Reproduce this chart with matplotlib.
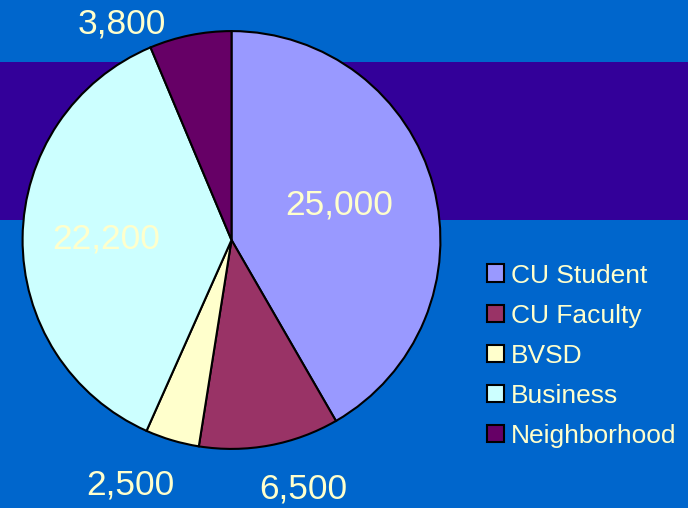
"""Commuter pie chart on a blue slide background."""
import numpy as np
import matplotlib.pyplot as plt
from matplotlib.patches import Rectangle, Patch

plt.rcParams['font.family'] = ['Liberation Sans', 'DejaVu Sans']

categories = ['CU Student', 'CU Faculty', 'BVSD', 'Business', 'Neighborhood']
values = [25000, 6500, 2500, 22200, 3800]
colors = ['#9999FF', '#993366', '#FFFFCC', '#CCFFFF', '#660066']

# label placement (radius as fraction of pie radius, angle tweak in degrees)
labelRadius = [0.54, 1.24, 1.27, 0.60, 1.16]
labelShift = [3.0, 5.5, -6.0, 0, 15.6]
textColor = '#FFFFCC'

W, H = 688, 508
fig = plt.figure(figsize=(W / 100, H / 100), dpi=100, facecolor='#0066CC')

# dark band across the slide
fig.patches.append(Rectangle((0, (H - 220) / H), 1, 158 / H, transform=fig.transFigure,
                             facecolor='#330099', edgecolor='none', zorder=-10))

cx, cy, r = 231.5, 240, 211
ax = fig.add_axes([(cx - r) / W, (H - cy - r) / H, 2 * r / W, 2 * r / H])
ax.set_facecolor('none')
wedges, _ = ax.pie(values, colors=colors, startangle=90, counterclock=False,
                   wedgeprops=dict(edgecolor='black', linewidth=1.5))
ax.set_xlim(-1.01, 1.01)
ax.set_ylim(-1.01, 1.01)
ax.set_aspect('equal')
ax.axis('off')

for w, v, rr, shift in zip(wedges, values, labelRadius, labelShift):
	ang = np.deg2rad((w.theta1 + w.theta2) / 2 + shift)
	ax.text(rr * np.cos(ang), rr * np.sin(ang), f'{v:,}', ha='center', va='center',
	        fontsize=25.5, color=textColor, clip_on=False)

handles = [Patch(facecolor=c, edgecolor='black', linewidth=1.5) for c in colors]
leg = fig.legend(handles, categories, loc='upper left', bbox_to_anchor=(476 / W, 1 - 253 / H),
                 frameon=False, fontsize=19, labelcolor=textColor, handlelength=0.65,
                 handleheight=0.65, handletextpad=0.28, labelspacing=0.61, borderaxespad=0)

fig.savefig('out.png', dpi=100, facecolor=fig.get_facecolor())
